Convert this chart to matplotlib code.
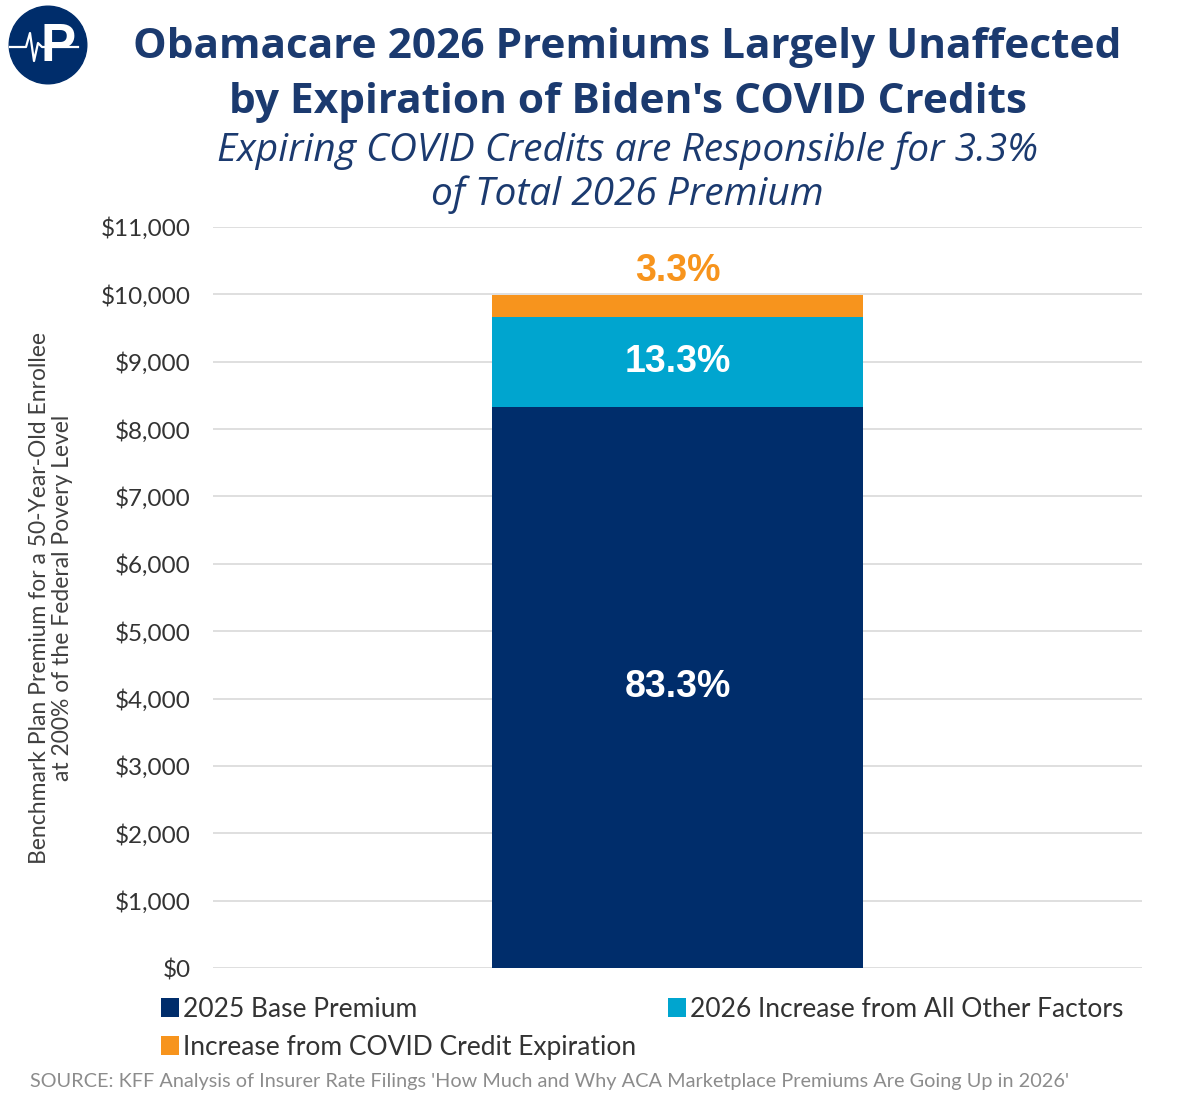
import matplotlib.pyplot as plt
from matplotlib.patches import Circle

# data
categories = ['2026']
base = [8330]
other = [1330]
covid = [330]
labels_base = ['83.3%']
labels_other = ['13.3%']
labels_covid = ['3.3%']
names = ['2025 Base Premium', '2026 Increase from All Other Factors',
         'Increase from COVID Credit Expiration']
yticks = list(range(0, 11001, 1000))

navy = '#002D6B'
cyan = '#00A5CF'
orange = '#F7941D'
title_c = '#1B3A6F'

plt.rcParams['font.family'] = ['Lato', 'DejaVu Sans']

fig = plt.figure(figsize=(12, 11.11), dpi=100)
ax = fig.add_axes([213/1200, 1-968/1111, (1142-213)/1200, (968-227)/1111])

b1 = ax.bar(categories, base, width=0.4, color=navy, zorder=3)
b2 = ax.bar(categories, other, bottom=base, width=0.4, color=cyan, zorder=3)
bot2 = [a + b for a, b in zip(base, other)]
b3 = ax.bar(categories, covid, bottom=bot2, width=0.4, color=orange, zorder=3)

for i in range(len(categories)):
    ax.text(i, base[i] / 2, labels_base[i], ha='center', va='center', color='white',
            fontsize=27, fontweight='bold', family='Liberation Sans', zorder=4)
    ax.text(i, base[i] + other[i] / 2, labels_other[i], ha='center', va='center',
            color='white', fontsize=27, fontweight='bold', family='Liberation Sans', zorder=4)
    ax.text(i, bot2[i] + covid[i] + 350, labels_covid[i], ha='center', va='center',
            color=orange, fontsize=27, fontweight='bold', family='Liberation Sans', zorder=4)

ax.set_xlim(-0.5, 0.5)
ax.set_ylim(0, 11000)
ax.set_yticks(yticks)
ax.set_yticklabels(['${:,}'.format(v) for v in yticks], fontsize=17.5, color='#333333')
ax.set_xticks([])
ax.tick_params(axis='y', length=0, pad=16)
ax.grid(axis='y', color='#D9D9D9', linewidth=1.2, zorder=0)
for s in ax.spines.values():
    s.set_visible(False)
ax.set_ylabel('Benchmark Plan Premium for a 50-Year-Old Enrollee\nat 200% of the Federal Povery Level',
              fontsize=16.5, color='#404040', labelpad=20, linespacing=1.1)

# titles
fig.text(0.523, 1-48/1111, 'Obamacare 2026 Premiums Largely Unaffected', ha='center', va='center',
         fontsize=30.5, fontweight='bold', color=title_c, family='Open Sans')
fig.text(0.523, 1-102/1111, "by Expiration of Biden's COVID Credits", ha='center', va='center',
         fontsize=30.5, fontweight='bold', color=title_c, family='Open Sans')
fig.text(0.523, 1-151/1111, 'Expiring COVID Credits are Responsible for 3.3%', ha='center', va='center',
         fontsize=28, style='italic', color=title_c, family='Open Sans')
fig.text(0.523, 1-195/1111, 'of Total 2026 Premium', ha='center', va='center',
         fontsize=28, style='italic', color=title_c, family='Open Sans')

# logo
logo = fig.add_axes([8/1200, 1-85/1111, 80/1200, 80/1111])
logo.set_xlim(-1, 1)
logo.set_ylim(-1, 1)
logo.set_aspect('equal')
logo.axis('off')
logo.add_patch(Circle((0, 0), 0.97, color=navy))
logo.text(0.25, -0.05, 'P', ha='center', va='center', color='white', fontsize=38,
          fontweight='bold', family='Liberation Sans')
logo.plot([-0.95, -0.55, -0.45, -0.35, -0.25, -0.15, 0.0, 0.75],
          [-0.05, -0.05, 0.3, -0.4, 0.05, -0.05, -0.05, -0.05], color='white', lw=1.6)

# legend
leg = fig.legend([b1, b3, b2], [names[0], names[2], names[1]], ncol=2, loc='upper left',
                 bbox_to_anchor=(150/1200, 1-986/1111), frameon=False, fontsize=19,
                 handlelength=0.7, handleheight=0.7, handletextpad=0.15,
                 columnspacing=1.2, labelspacing=0.5, borderaxespad=0)
for t in leg.get_texts():
    t.set_color('#333333')

fig.text(30/1200, 1-1082/1111,
         "SOURCE: KFF Analysis of Insurer Rate Filings 'How Much and Why ACA Marketplace Premiums Are Going Up in 2026'",
         ha='left', va='center', fontsize=14.3, color='#8C8C8C')

fig.savefig('out.png', dpi=100, facecolor='white')
